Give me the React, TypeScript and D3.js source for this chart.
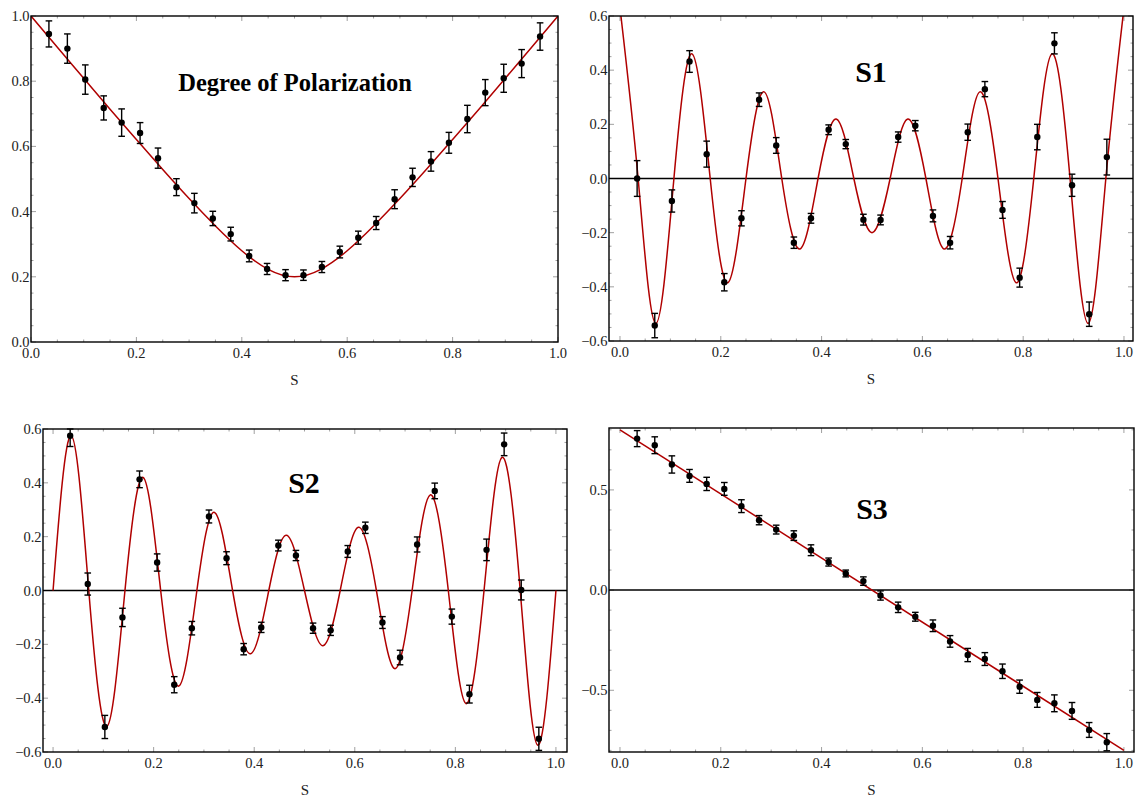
import React from 'react';
import * as d3 from 'd3';

// measurement positions (s) shared by all four panels
const sData = [0.034, 0.069, 0.103, 0.138, 0.172, 0.207, 0.241, 0.276, 0.310, 0.345, 0.379, 0.414, 0.448, 0.483,
  0.517, 0.552, 0.586, 0.621, 0.655, 0.690, 0.724, 0.759, 0.793, 0.828, 0.862, 0.897, 0.931, 0.966];

const dopValues = [0.945, 0.90, 0.805, 0.718, 0.673, 0.641, 0.564, 0.475, 0.426, 0.379, 0.331, 0.264, 0.224, 0.205,
  0.205, 0.23, 0.276, 0.32, 0.365, 0.438, 0.505, 0.554, 0.611, 0.684, 0.765, 0.809, 0.854, 0.937];
const dopErrors = [0.04, 0.045, 0.045, 0.037, 0.042, 0.032, 0.031, 0.026, 0.03, 0.022, 0.021, 0.018, 0.017, 0.017,
  0.016, 0.017, 0.018, 0.02, 0.02, 0.029, 0.028, 0.03, 0.032, 0.042, 0.04, 0.043, 0.043, 0.042];

const s1Values = [0.0, -0.543, -0.083, 0.432, 0.09, -0.383, -0.147, 0.291, 0.122, -0.237, -0.147, 0.18, 0.127, -0.152,
  -0.153, 0.153, 0.195, -0.138, -0.237, 0.171, 0.33, -0.116, -0.366, 0.153, 0.499, -0.025, -0.501, 0.079];
const s1Errors = [0.066, 0.045, 0.041, 0.04, 0.048, 0.032, 0.028, 0.025, 0.029, 0.021, 0.018, 0.018, 0.017, 0.02,
  0.018, 0.019, 0.019, 0.022, 0.023, 0.03, 0.028, 0.031, 0.035, 0.047, 0.039, 0.041, 0.045, 0.066];

const s2Values = [0.575, 0.024, -0.507, -0.1, 0.413, 0.104, -0.35, -0.14, 0.275, 0.12, -0.218, -0.137, 0.167, 0.13,
  -0.14, -0.148, 0.145, 0.233, -0.119, -0.249, 0.171, 0.37, -0.097, -0.385, 0.151, 0.543, 0.002, -0.551];
const s2Errors = [0.04, 0.041, 0.043, 0.034, 0.031, 0.032, 0.03, 0.025, 0.024, 0.024, 0.021, 0.019, 0.02, 0.019,
  0.019, 0.019, 0.022, 0.021, 0.022, 0.027, 0.028, 0.029, 0.028, 0.033, 0.04, 0.042, 0.037, 0.043];

const s3Values = [0.756, 0.723, 0.627, 0.57, 0.53, 0.505, 0.419, 0.349, 0.302, 0.272, 0.199, 0.14, 0.083, 0.045,
  -0.027, -0.086, -0.133, -0.178, -0.256, -0.324, -0.344, -0.405, -0.482, -0.548, -0.565, -0.603, -0.698, -0.759];
const s3Errors = [0.04, 0.042, 0.043, 0.032, 0.033, 0.032, 0.032, 0.023, 0.022, 0.024, 0.027, 0.02, 0.017, 0.021,
  0.023, 0.026, 0.022, 0.029, 0.029, 0.033, 0.032, 0.036, 0.033, 0.037, 0.042, 0.042, 0.037, 0.043];

// fitted curves, read at their knots
const dopCurveS = [0, 0.05, 0.1, 0.15, 0.2, 0.25, 0.3, 0.35, 0.4, 0.45, 0.5, 0.55, 0.6, 0.65, 0.7, 0.75, 0.8, 0.85, 0.9, 0.95, 1];
const dopCurve = [1.0, 0.904, 0.809, 0.714, 0.621, 0.529, 0.44, 0.356, 0.28, 0.223, 0.2, 0.223, 0.28, 0.356, 0.44, 0.529,
  0.621, 0.714, 0.809, 0.904, 1.0];

const waveS = [0, 0.036, 0.071, 0.107, 0.143, 0.179, 0.214, 0.25, 0.286, 0.321, 0.357, 0.393, 0.429, 0.464, 0.5,
  0.536, 0.571, 0.607, 0.643, 0.679, 0.714, 0.75, 0.786, 0.821, 0.857, 0.893, 0.929, 0.964, 1];
const s1Curve = [0.63, 0, -0.535, 0, 0.46, 0, -0.385, 0, 0.32, 0, -0.26, 0, 0.22, 0, -0.2,
  0, 0.22, 0, -0.26, 0, 0.32, 0, -0.385, 0, 0.46, 0, -0.535, 0, 0.63];
const s2Curve = [0, 0.575, 0, -0.505, 0, 0.42, 0, -0.355, 0, 0.29, 0, -0.235, 0, 0.205, 0,
  -0.205, 0, 0.235, 0, -0.29, 0, 0.355, 0, -0.42, 0, 0.495, 0, -0.575, 0];

const s3LineS = [0, 1];
const s3Line = [0.8, -0.8];

const xTicks = [0, 0.2, 0.4, 0.6, 0.8, 1.0];
const dopTicks = [0, 0.2, 0.4, 0.6, 0.8, 1.0];
const stokesTicks = [-0.6, -0.4, -0.2, 0, 0.2, 0.4, 0.6];
const s3Ticks = [-0.5, 0, 0.5];

const RED = '#b00000';
const FONT = '"Liberation Serif", "Times New Roman", serif';
const fmt = d3.format('.1f');

const Panel = ({ id, box, xDomain, yDomain, yTicks, yMinorCount, vals, errs, curveS, curveV, curveFn, title, titleX, titleY, titleSize, zeroLine }) => {
  const x = d3.scaleLinear().domain(xDomain).range([box.left, box.right]);
  const y = d3.scaleLinear().domain(yDomain).range([box.bottom, box.top]);
  const line = d3.line<number>()
    .x((d, i) => x(curveS[i]))
    .y(d => y(d))
    .curve(curveFn);
  const xMinor = x.ticks(20);
  const yMinor = y.ticks(yMinorCount);
  const major = 5, minor = 2.5;
  const cx = (box.left + box.right) / 2;

  return (
    <g>
      <defs>
        <clipPath id={id}>
          <rect x={box.left} y={box.top} width={box.right - box.left} height={box.bottom - box.top} />
        </clipPath>
      </defs>
      <rect x={box.left} y={box.top} width={box.right - box.left} height={box.bottom - box.top} fill="white" />

      {/* minor + major ticks, inward on all four sides */}
      <g stroke="#777" strokeWidth={0.7}>
        {xMinor.map((t, i) => {
          const len = xTicks.some(m => Math.abs(m - t) < 1e-9) ? major : minor;
          return (
            <g key={'xt' + i}>
              <line x1={x(t)} x2={x(t)} y1={box.bottom} y2={box.bottom - len} />
              <line x1={x(t)} x2={x(t)} y1={box.top} y2={box.top + len} />
            </g>
          );
        })}
        {yMinor.map((t, i) => {
          const len = yTicks.some(m => Math.abs(m - t) < 1e-9) ? major : minor;
          return (
            <g key={'yt' + i}>
              <line x1={box.left} x2={box.left + len} y1={y(t)} y2={y(t)} />
              <line x1={box.right} x2={box.right - len} y1={y(t)} y2={y(t)} />
            </g>
          );
        })}
      </g>

      {zeroLine && (
        <line x1={box.left} x2={box.right} y1={y(0)} y2={y(0)} stroke="black" strokeWidth={1.5} />
      )}

      <g clipPath={`url(#${id})`}>
        <path d={line(curveV) || ''} fill="none" stroke={RED} strokeWidth={1.5} />
      </g>

      <g stroke="black" strokeWidth={1.4}>
        {vals.map((v, i) => {
          const px = x(sData[i]);
          const lo = y(Math.max(v - errs[i], yDomain[0]));
          const hi = y(Math.min(v + errs[i], yDomain[1]));
          return (
            <g key={'e' + i}>
              <line x1={px} x2={px} y1={lo} y2={hi} />
              <line x1={px - 3.3} x2={px + 3.3} y1={lo} y2={lo} />
              <line x1={px - 3.3} x2={px + 3.3} y1={hi} y2={hi} />
            </g>
          );
        })}
      </g>
      {vals.map((v, i) => (
        <circle key={'p' + i} cx={x(sData[i])} cy={y(v)} r={3.2} fill="black" />
      ))}

      <rect x={box.left} y={box.top} width={box.right - box.left} height={box.bottom - box.top}
        fill="none" stroke="black" strokeWidth={1.4} />

      <g fontFamily={FONT} fontSize={14.5} fill="#222">
        {xTicks.map(t => (
          <text key={'xl' + t} x={x(t)} y={box.bottom + 16} textAnchor="middle">{fmt(t)}</text>
        ))}
        {yTicks.map(t => (
          <text key={'yl' + t} x={box.left - 1.5} y={y(t)} dy="0.35em" textAnchor="end">{fmt(t)}</text>
        ))}
      </g>
      <text x={cx} y={box.bottom + 43} textAnchor="middle" fontFamily={FONT} fontSize={15} fill="#222">S</text>
      <text x={titleX} y={titleY} textAnchor="middle" fontFamily={FONT} fontWeight="bold" fontSize={titleSize} fill="black">{title}</text>
    </g>
  );
};

const App = () => {
  return (
    <svg width={1137} height={799} viewBox="0 0 1137 799"
      style={{ position: 'absolute', left: 0, top: 0, background: 'white' }}>
      <rect width={1137} height={799} fill="white" />
      <Panel id="c1" box={{ left: 31, right: 558, top: 16, bottom: 342 }}
        xDomain={[0, 1]} yDomain={[0, 1]} yTicks={dopTicks} yMinorCount={20}
        vals={dopValues} errs={dopErrors} curveS={dopCurveS} curveV={dopCurve} curveFn={d3.curveNatural}
        title="Degree of Polarization" titleX={295} titleY={91} titleSize={24.5} zeroLine={false} />
      <Panel id="c2" box={{ left: 609, right: 1133, top: 16, bottom: 341 }}
        xDomain={[-0.0218, 1.0179]} yDomain={[-0.6, 0.6]} yTicks={stokesTicks} yMinorCount={24}
        vals={s1Values} errs={s1Errors} curveS={waveS} curveV={s1Curve} curveFn={d3.curveNatural}
        title="S1" titleX={871} titleY={82} titleSize={30} zeroLine={true} />
      <Panel id="c3" box={{ left: 43, right: 567, top: 429, bottom: 752 }}
        xDomain={[-0.02, 1.022]} yDomain={[-0.6, 0.6]} yTicks={stokesTicks} yMinorCount={24}
        vals={s2Values} errs={s2Errors} curveS={waveS} curveV={s2Curve} curveFn={d3.curveNatural}
        title="S2" titleX={304} titleY={493} titleSize={30} zeroLine={true} />
      <Panel id="c4" box={{ left: 609, right: 1134, top: 428, bottom: 752 }}
        xDomain={[-0.0218, 1.02]} yDomain={[-0.808, 0.809]} yTicks={s3Ticks} yMinorCount={16}
        vals={s3Values} errs={s3Errors} curveS={s3LineS} curveV={s3Line} curveFn={d3.curveLinear}
        title="S3" titleX={872} titleY={519} titleSize={30} zeroLine={true} />
    </svg>
  );
};

export default App;
